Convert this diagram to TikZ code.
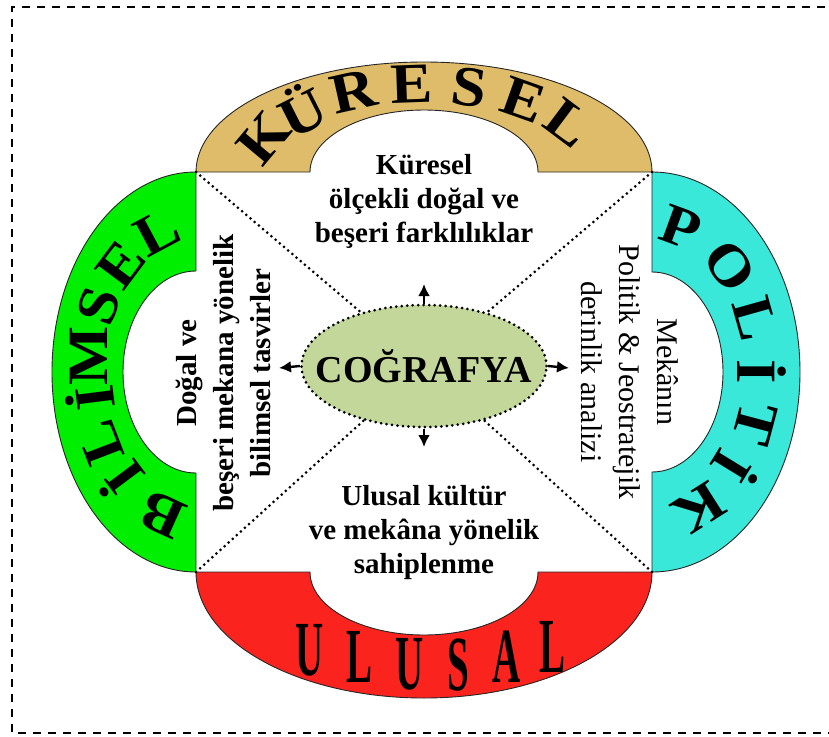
\documentclass[tikz,border=0pt]{standalone}
\usepackage{fontspec}
\setmainfont{Liberation Serif}
\usetikzlibrary{shapes.geometric,calc,arrows.meta}
\definecolor{kuresel}{RGB}{223,188,106}
\definecolor{bilimsel}{RGB}{0,238,0}
\definecolor{politik}{RGB}{58,232,218}
\definecolor{ulusal}{RGB}{250,35,30}
\definecolor{cografya}{RGB}{196,215,155}

\begin{document}
\begin{tikzpicture}[x=1pt,y=-1pt,
   band/.style={draw=black!85,line width=0.9pt},
   harf/.style={font=\bfseries\fontsize{57}{57}\selectfont,xscale=1.1,inner sep=0pt},
   ulharf/.style={font=\bfseries\fontsize{78}{78}\selectfont,xscale=0.5,inner sep=0pt},
   yazi/.style={font=\bfseries\fontsize{29}{34}\selectfont,align=center,inner sep=0pt},
   nokta/.style={dash pattern=on 0pt off 5.5pt,line cap=round,line width=3pt},
   ok/.style={line width=2.4pt,-{Latex[length=12pt,width=12pt]}}]
\useasboundingbox (0,0) rectangle (829,736);
\draw[line width=2.2pt,dash pattern=on 8pt off 7pt] (840,7) -- (12,7) -- (12,733) -- (840,733);

\coordinate (nw) at (196,172);
\coordinate (ne) at (652,172);
\coordinate (sw) at (196,572);
\coordinate (se) at (652,572);
\coordinate (ku) at (424,172);
\coordinate (bi) at (196,372);
\coordinate (po) at (652,372);
\coordinate (ul) at (424,572);

\draw[band,fill=kuresel] (nw) arc[start angle=180,end angle=360,x radius=228,y radius=110]
   -- ++(-114,0) arc[start angle=360,end angle=180,x radius=114,y radius=62] -- cycle;
\draw[band,fill=bilimsel] (nw) arc[start angle=270,end angle=90,x radius=144,y radius=200]
   -- ++(0,-99) arc[start angle=90,end angle=270,x radius=73,y radius=101] -- cycle;
\draw[band,fill=politik] (ne) arc[start angle=270,end angle=450,x radius=148,y radius=200]
   -- ++(0,-100) arc[start angle=90,end angle=-90,x radius=71,y radius=100] -- cycle;
\draw[band,fill=ulusal] (sw) arc[start angle=180,end angle=0,x radius=228,y radius=126]
   -- ++(-114,0) arc[start angle=0,end angle=180,x radius=114,y radius=63] -- cycle;

\foreach \hrf/\ang in {K/203,Ü/225,R/246,E/266,S/285,E/305,L/326}{
  \pgfmathsetmacro\rot{atan2(-sin(\ang)/88,cos(\ang)/174)-90}
  \node[rotate=\rot,harf] at ($(ku)+(\ang:174 and 88)$) {\hrf};
}
\foreach \hrf/\ang in {B/108,İ/134,L/152,İ/170,M/186,S/206,E/226,L/249}{
  \pgfmathsetmacro\rot{atan2(-sin(\ang)/150,cos(\ang)/108)-90}
  \node[rotate=\rot,harf] at ($(bi)+(\ang:108 and 150)$) {\hrf};
}
\foreach \hrf/\ang in {P/-75,O/-45,L/-21,İ/0,T/20,İ/40,K/65}{
  \pgfmathsetmacro\rot{atan2(-sin(\ang)/150,cos(\ang)/110)-90}
  \node[rotate=\rot,harf] at ($(po)+(\ang:110 and 150)$) {\hrf};
}
\foreach \hrf/\x/\y in {U/310/650,L/360/657,U/410/664,S/458/665,A/507/657,L/552/647}
  \node[ulharf] at (\x,\y) {\hrf};

\node[ellipse,draw,fill=cografya,nokta,minimum width=245,minimum height=122,inner sep=0pt,
   font=\bfseries\fontsize{38}{38}\selectfont] (cog) at (424,366) {\makebox[0pt]{COĞRAFYA}};
\foreach \k in {nw,ne,sw,se}
  \draw[nokta] (\k) -- (cog);

\coordinate (okN) at (424,284);
\coordinate (okS) at (424,447);
\coordinate (okW) at (279,368);
\coordinate (okE) at (569,368);
\draw[ok] (cog.north) -- (okN);
\draw[ok] (cog.south) -- (okS);
\draw[ok] (cog.west) -- (okW);
\draw[ok] (cog.east) -- (okE);

\node[yazi] (kutxt) at (424,201) {Küresel\\ölçekli doğal ve\\beşeri farklılıklar};
\node[yazi] (ultxt) at (424,533) {Ulusal kültür\\ve mekâna yönelik\\sahiplenme};
\node[yazi,rotate=90,font=\bfseries\fontsize{29}{37}\selectfont] (bitxt) at (223,373)
   {Doğal ve\\beşeri mekana yönelik\\bilimsel tasvirler};
\node[yazi,rotate=-90,font=\fontsize{30}{38}\selectfont] (potxt) at (630,372)
   {Mekânın\\Politik \& Jeostratejik\\derinlik analizi};
\end{tikzpicture}
\end{document}
